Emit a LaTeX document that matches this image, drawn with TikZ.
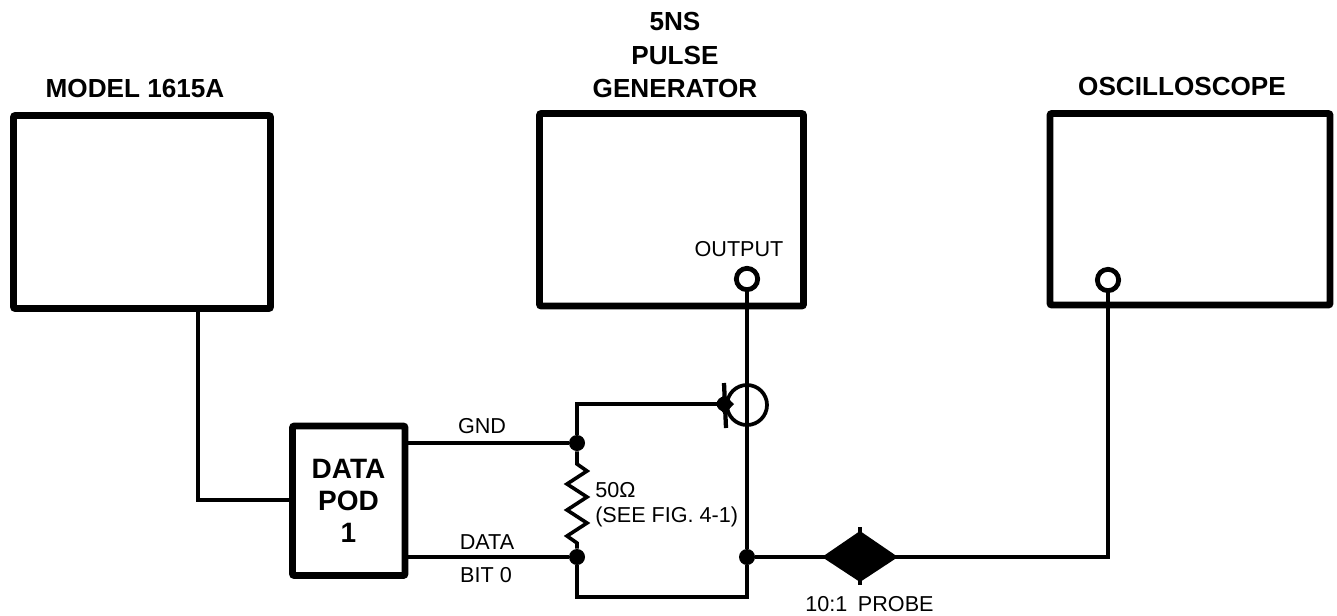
\documentclass[tikz,border=0pt]{standalone}
\usepackage{fontspec}
\setmainfont{Liberation Sans}
\usetikzlibrary{calc}
\tikzset{
  x=0.75pt,y=-0.75pt,
  bigbox/.style={draw=black,line width=5.2pt,rounded corners=1.5pt,inner sep=0pt,fill=none},
  wire/.style={draw=black,line width=2.7pt,line join=miter},
  title/.style={font=\fontsize{19.6}{24.8}\selectfont\bfseries,align=center,inner sep=0pt},
  podtext/.style={font=\fontsize{21}{24}\selectfont\bfseries,align=center,inner sep=0pt},
  small/.style={font=\fontsize{16.2}{18}\selectfont,inner sep=0pt},
  jdot/.style={circle,fill=black,minimum size=12pt,inner sep=0pt},
  jack/.style={circle,draw=black,fill=white,line width=3.6pt,minimum size=16pt,inner sep=0pt},
}
\begin{document}
\begin{tikzpicture}
\useasboundingbox (0,0) rectangle (1337,615);
% boxes
\coordinate (m1) at (13.5,115.5); \coordinate (m2) at (270.5,308.5);
\coordinate (g1) at (539.5,113.5); \coordinate (g2) at (803.5,306);
\coordinate (o1) at (1050,113.5); \coordinate (o2) at (1330,305);
\coordinate (p1) at (292.5,426); \coordinate (p2) at (405,575.5);
\draw[bigbox] (m1) rectangle (m2);
\draw[bigbox] (g1) rectangle (g2);
\draw[bigbox] (o1) rectangle (o2);
% titles
\node[title] (tm) at (135,88) {MODEL 1615A};
\node[title] (tg) at (675,55) {5NS\\PULSE\\GENERATOR};
\node[title] (to) at (1182,86) {OSCILLOSCOPE};
% junctions
\coordinate (mout) at (198,308.5);
\coordinate (podin) at (198,500);
\node[jdot] (jg) at (577,443) {};
\node[jdot] (jd) at (577,557) {};
\node[jdot] (jo) at (747,557) {};
\coordinate (ptop) at (577,404);
\coordinate (bl) at (577,597);
\coordinate (br) at (747,597);
\coordinate (sccorner) at (1108,557);
\coordinate (podl) at (292.5,500);
\coordinate (gndr) at (405,443);
\coordinate (datar) at (405,557);
% pod
\draw[bigbox] (p1) rectangle (p2);
\node[podtext] (ptext) at (348.5,501) {DATA\\POD\\1};
% wires
\coordinate (outc) at (747,279);
\coordinate (scc) at (1108,280);
\draw[wire] (mout) -- (podin) -- (podl);
\draw[wire] (gndr) -- (jg);
\draw[wire] (datar) -- (jd);
\draw[wire] (outc) -- (jo);
\draw[wire] (jo) -- (br) -- (bl) -- (jd);
\draw[wire] (jg) -- (ptop) -- (722,404);
% resistor
\draw[wire] (jg) -- (577,464) -- (587,471) -- (567,484) -- (587,497) -- (567,510) -- (587,523) -- (567,536) -- (577,543) -- (jd);
% clip-on
\node[circle,draw=black,line width=2.8pt,minimum size=30pt,inner sep=0pt] (clip) at (747,405) {};
\node[jdot,minimum size=11pt] (cd) at (724,404) {};
\fill (716,404) -- (724,395) -- (734,404) -- (724,414) -- cycle;
\draw[line width=3.2pt] (724,383) -- (726,428);
% jacks and probe
\node[jack] (out) at (outc) {};
\node[inner sep=0pt] (prb) at (860,557) {};
\draw[wire] (jo) -- (prb) -- (sccorner) -- (scc);
\node[jack] (sc) at (scc) {};
\fill (822,557) -- (860,531) -- (898,557) -- (860,582) -- cycle;
\draw[line width=2.4pt] (860,527) -- (860,585);
% labels
\node[small] (lo) at (739,249) {OUTPUT};
\node[small] (lg) at (482,426) {GND};
\node[small] (ld) at (487,542) {DATA};
\node[small] (lb) at (486,575) {BIT 0};
\node[small,anchor=west] (lr) at (595,490) {50Ω};
\node[small,anchor=west] (lf) at (595,517) {(SEE FIG. 4-1)};
\node[small,anchor=west] (lp) at (805,604) {10:1\hspace{8pt}PROBE};
\end{tikzpicture}
\end{document}
